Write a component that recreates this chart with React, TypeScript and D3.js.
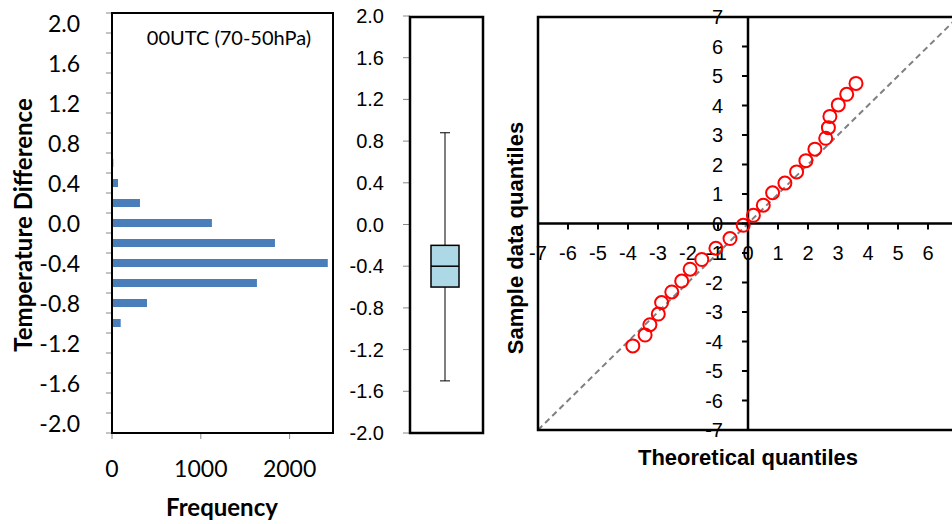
import React from "react";
import * as d3 from "d3";

// ---------- Data ----------
const histCategories = [2.0, 1.8, 1.6, 1.4, 1.2, 1.0, 0.8, 0.6, 0.4, 0.2, 0.0, -0.2, -0.4, -0.6, -0.8, -1.0, -1.2, -1.4, -1.6, -1.8, -2.0];
const histFrequency = [0, 0, 0, 0, 0, 0, 0, 15, 68, 315, 1125, 1835, 2430, 1632, 394, 98, 0, 0, 0, 0, 0];
const histXTicks = [0, 1000, 2000];
const histTitle = "00UTC (70-50hPa)";

const boxStats = { min: -1.5, q1: -0.6, median: -0.4, q3: -0.2, max: 0.88 };
const boxYTicks = [2.0, 1.6, 1.2, 0.8, 0.4, 0.0, -0.4, -0.8, -1.2, -1.6, -2.0];

const qqTheoretical = [3.6, 3.29, 3.01, 2.73, 2.68, 2.59, 2.23, 1.93, 1.62, 1.23, 0.82, 0.51, 0.18, -0.16, -0.6, -1.07, -1.54, -1.93, -2.21, -2.54, -2.88, -2.99, -3.27, -3.43, -3.84];
const qqSample = [4.75, 4.38, 4.02, 3.63, 3.25, 2.89, 2.52, 2.13, 1.75, 1.37, 1.04, 0.62, 0.28, -0.06, -0.51, -0.84, -1.22, -1.55, -1.95, -2.32, -2.68, -3.07, -3.43, -3.78, -4.15];
const qqTicks = [-7, -6, -5, -4, -3, -2, -1, 0, 1, 2, 3, 4, 5, 6, 7];

const calibri = "Lato, 'Open Sans', sans-serif";
const arial = "'Liberation Sans', Arial, sans-serif";

export default function App() {
  // Histogram scales
  const hy = d3.scaleBand<string>().domain(histCategories.map((c) => c.toFixed(1))).range([13, 433]);
  const hx = d3.scaleLinear().domain([0, 2500]).range([112, 334]);
  const bw = hy.bandwidth();
  const barH = bw * 0.4;

  // Boxplot scales
  const by = d3.scaleLinear().domain([-2, 2]).range([433, 16]);
  const bcx = 445;
  const boxW = 28;
  const capW = 10;

  // QQ scales
  const qx = d3.scaleLinear().domain([-7, 7]).range([538, 958]);
  const qy = d3.scaleLinear().domain([-7, 7]).range([430, 17]);

  return (
    <svg width={952} height={524} style={{ position: "absolute", left: 0, top: 0, background: "#fff" }}>
      <rect x={0} y={0} width={952} height={524} fill="#fff" />
      {/* ---------- Histogram ---------- */}
      <g>
        {histCategories.map((c, i) => {
          const v = histFrequency[i];
          if (v <= 0) return null;
          const yc = (hy(c.toFixed(1)) as number) + bw / 2;
          return <rect key={i} x={hx(0)} y={yc - barH / 2} width={hx(v) - hx(0)} height={barH} fill="#4A7EBB" />;
        })}
        {d3.range(histCategories.length + 1).map((k) => {
          const y = 13 + k * bw;
          return <line key={k} x1={106} x2={112} y1={y} y2={y} stroke="#888" strokeWidth={1} />;
        })}
        {histCategories.map((c, i) =>
          i % 2 === 0 ? (
            <text key={i} x={80} y={(hy(c.toFixed(1)) as number) + bw / 2} textAnchor="end" dominantBaseline="central" fontFamily={calibri} fontSize={23} fill="#000">
              {c.toFixed(1)}
            </text>
          ) : null
        )}
        {histXTicks.map((t) => (
          <g key={t}>
            <line x1={hx(t)} x2={hx(t)} y1={433} y2={439} stroke="#888" strokeWidth={1} />
            <text x={hx(t)} y={468} textAnchor="middle" dominantBaseline="central" fontFamily={calibri} fontSize={23} fill="#000">
              {t}
            </text>
          </g>
        ))}
        <rect x={112} y={13} width={221} height={420} fill="none" stroke="#000" strokeWidth={2} />
        <text x={229} y={37} textAnchor="middle" dominantBaseline="central" fontFamily={calibri} fontSize={20} fill="#000">
          {histTitle}
        </text>
        <text x={222} y={506} textAnchor="middle" dominantBaseline="central" fontFamily={calibri} fontSize={24} fontWeight="bold" fill="#000">
          Frequency
        </text>
        <text transform="translate(22,225) rotate(-90)" textAnchor="middle" dominantBaseline="central" fontFamily={calibri} fontSize={24} fontWeight="bold" fill="#000">
          Temperature Difference
        </text>
      </g>

      {/* ---------- Boxplot ---------- */}
      <g>
        {boxYTicks.map((t) => (
          <g key={t}>
            <line x1={403} x2={410} y1={by(t)} y2={by(t)} stroke="#888" strokeWidth={1} />
            <text x={384} y={by(t)} textAnchor="end" dominantBaseline="central" fontFamily={arial} fontSize={20} fill="#000">
              {t.toFixed(1)}
            </text>
          </g>
        ))}
        <line x1={bcx} x2={bcx} y1={by(boxStats.max)} y2={by(boxStats.q3)} stroke="#000" strokeWidth={1} />
        <line x1={bcx} x2={bcx} y1={by(boxStats.q1)} y2={by(boxStats.min)} stroke="#000" strokeWidth={1} />
        <line x1={bcx - capW / 2} x2={bcx + capW / 2} y1={by(boxStats.max)} y2={by(boxStats.max)} stroke="#000" strokeWidth={1} />
        <line x1={bcx - capW / 2} x2={bcx + capW / 2} y1={by(boxStats.min)} y2={by(boxStats.min)} stroke="#000" strokeWidth={1} />
        <rect x={bcx - boxW / 2} y={by(boxStats.q3)} width={boxW} height={by(boxStats.q1) - by(boxStats.q3)} fill="#ADD8E6" stroke="#000" strokeWidth={1.5} />
        <line x1={bcx - boxW / 2} x2={bcx + boxW / 2} y1={by(boxStats.median)} y2={by(boxStats.median)} stroke="#000" strokeWidth={1.5} />
        <rect x={410} y={17} width={73} height={416} fill="none" stroke="#000" strokeWidth={2.5} />
      </g>

      {/* ---------- QQ plot ---------- */}
      <g>
        <line x1={qx(-7)} y1={qy(-7)} x2={qx(7)} y2={qy(7)} stroke="#808080" strokeWidth={2} strokeDasharray="6,4" />
        <rect x={538} y={17} width={420} height={413} fill="none" stroke="#000" strokeWidth={2.5} />
        <line x1={qx(-7)} x2={qx(7)} y1={qy(0)} y2={qy(0)} stroke="#000" strokeWidth={2.5} />
        <line x1={qx(0)} x2={qx(0)} y1={qy(7)} y2={qy(-7)} stroke="#000" strokeWidth={2.5} />
        {qqTicks.map((t) => (
          <g key={"x" + t}>
            <line x1={qx(t)} x2={qx(t)} y1={qy(0)} y2={qy(0) + 6} stroke="#000" strokeWidth={2} />
            <text x={qx(t)} y={253} textAnchor="middle" dominantBaseline="central" fontFamily={arial} fontSize={20} fill="#000">
              {String(t)}
            </text>
          </g>
        ))}
        {qqTicks.map((t) => (
          <g key={"y" + t}>
            <line x1={qx(0) - 6} x2={qx(0)} y1={qy(t)} y2={qy(t)} stroke="#000" strokeWidth={2} />
            <text x={723} y={qy(t)} textAnchor="end" dominantBaseline="central" fontFamily={arial} fontSize={20} fill="#000">
              {String(t)}
            </text>
          </g>
        ))}
        {qqTheoretical.map((tx, i) => (
          <circle key={i} cx={qx(tx)} cy={qy(qqSample[i])} r={6.5} fill="none" stroke="#FF0000" strokeWidth={2} />
        ))}
        <text x={748} y={457} textAnchor="middle" dominantBaseline="central" fontFamily={arial} fontSize={22} fontWeight="bold" fill="#000">
          Theoretical quantiles
        </text>
        <text transform="translate(515,238) rotate(-90)" textAnchor="middle" dominantBaseline="central" fontFamily={arial} fontSize={22} fontWeight="bold" fill="#000">
          Sample data quantiles
        </text>
      </g>
    </svg>
  );
}
